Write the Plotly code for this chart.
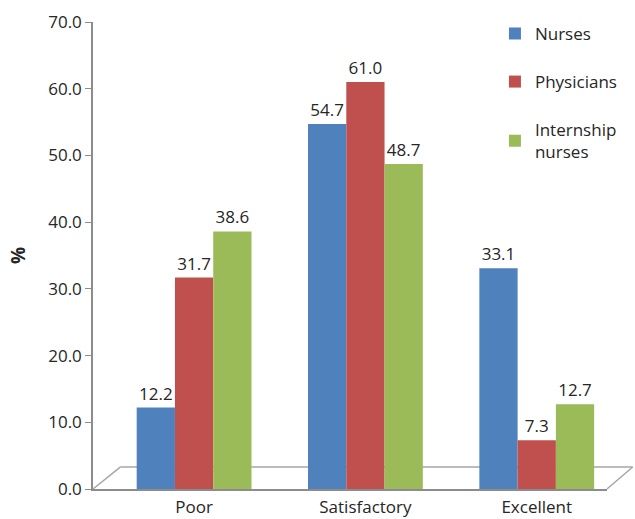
import plotly.graph_objects as go

categories = ["Poor", "Satisfactory", "Excellent"]
series_names = ["Nurses", "Physicians", "Internship<br>nurses"]
nurses = [12.2, 54.7, 33.1]
physicians = [31.7, 61.0, 7.3]
internship_nurses = [38.6, 48.7, 12.7]
colors = ["#4F81BD", "#C0504D", "#9BBB59"]
y_ticks = [0, 10, 20, 30, 40, 50, 60, 70]

FONT = "'Open Sans', sans-serif"
fig = go.Figure()
for name, vals, col in zip(series_names, [nurses, physicians, internship_nurses], colors):
    fig.add_trace(go.Bar(
        x=categories, y=vals, name=name, legendgroup=name,
        marker=dict(color=col, line=dict(width=0)),
        text=[f"{v:.1f}" for v in vals], textposition="outside",
        textfont=dict(size=17, color="#262626", family=FONT),
        cliponaxis=False,
    ))

axis_col = "#8C8C8C"
# 3D-look floor (decoration)
floor = [
    dict(x0=0, y0=0, x1=0.053, y1=0.047),
    dict(x0=0.053, y0=0.047, x1=1.05, y1=0.047),
    dict(x0=1.0, y0=0, x1=1.05, y1=0.047),
]
shapes = [dict(type="line", xref="paper", yref="paper", line=dict(color="#A6A6A6", width=1.5), layer="below", **f) for f in floor]

fig.update_layout(
    width=635, height=519,
    margin=dict(l=93, r=28, t=22, b=30),
    paper_bgcolor="white", plot_bgcolor="white",
    barmode="group", bargap=0.33, bargroupgap=0.0,
    font=dict(family=FONT, size=17, color="#262626"),
    shapes=shapes,
    showlegend=True,
    legend=dict(x=0.782, y=1.013, xanchor="left", yanchor="top",
                font=dict(size=17, family=FONT, color="#262626"),
                tracegroupgap=23, itemwidth=30, bgcolor="rgba(0,0,0,0)"),
    xaxis=dict(type="category", range=[-0.59, 2.41], showline=True, linecolor=axis_col,
               linewidth=1.5, ticks="", showgrid=False, zeroline=False,
               tickfont=dict(size=17), ticklabelstandoff=2, automargin=False),
    xaxis2=dict(overlaying="x", anchor="y", range=[0, 3], tickvals=[0, 1, 2, 3],
                ticks="outside", ticklen=6, tickcolor=axis_col, tickwidth=1.5,
                showticklabels=False, showgrid=False, zeroline=False, showline=False,
                automargin=False),
    yaxis=dict(range=[0, 70], tickvals=y_ticks, tickformat=".1f", ticks="outside",
               ticklen=6, tickcolor=axis_col, showline=True, linecolor=axis_col,
               linewidth=1.5, showgrid=False, zeroline=False, automargin=False,
               tickfont=dict(size=17),
               title=dict(text="<b>%</b>", font=dict(size=19), standoff=18)),
)
fig.write_html("out.html")
